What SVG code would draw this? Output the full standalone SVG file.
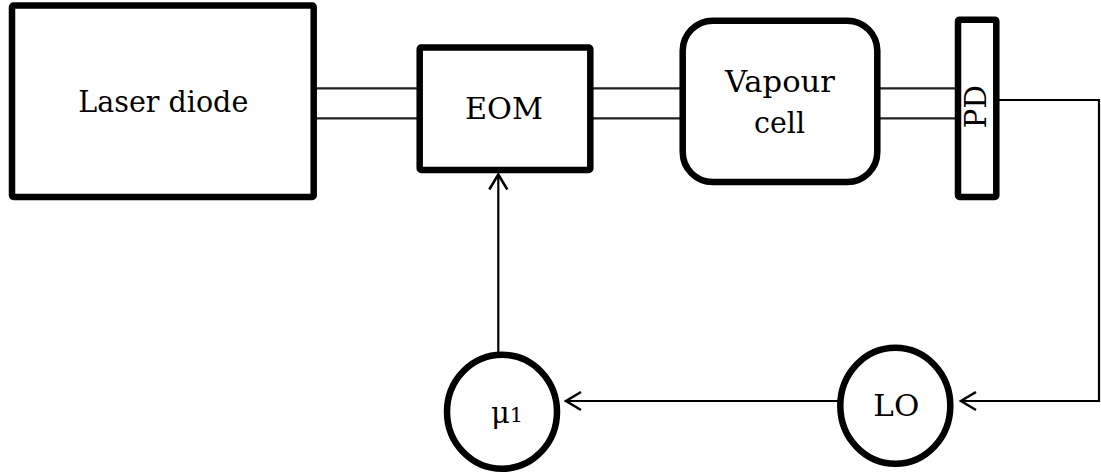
<svg xmlns="http://www.w3.org/2000/svg" width="1101" height="473" viewBox="0 0 1101 473">
<style>
.box{fill:#fff;stroke:#000;stroke-width:6.5;stroke-linejoin:round}
.beam{stroke:#222;stroke-width:2.2;fill:none}
.wire{stroke:#000;stroke-width:2.2;fill:none}
.lbl{font-family:"DejaVu Serif","Liberation Serif",serif;font-size:29px;fill:#000}
</style>
<defs>
<marker id="arr" markerUnits="userSpaceOnUse" markerWidth="24" markerHeight="24" viewBox="-20 -12 24 24" refX="0" refY="0" orient="auto">
<path d="M-15,-9 L0,0 L-15,9" fill="none" stroke="#000" stroke-width="2.5"/>
</marker>
</defs>
<rect width="1101" height="473" fill="#fff"/>
<g id="connectors">
<path class="beam" d="M313,88.3 H420 M313,118.3 H420"/>
<path class="beam" d="M590,88.3 H683 M590,118.3 H683"/>
<path class="beam" d="M877,88.3 H958 M877,118.3 H958"/>
<path class="wire" d="M996,100 H1099 V401 H961" marker-end="url(#arr)"/>
<path class="wire" d="M840,401 H566" marker-end="url(#arr)"/>
<path class="wire" d="M498.3,355 V174.5" marker-end="url(#arr)"/>
</g>
<g id="laser">
<rect class="box" x="12" y="5.5" width="301.7" height="191.5" rx="1.5"/>
<text class="lbl" x="78.3" y="111.7" textLength="170" lengthAdjust="spacingAndGlyphs">Laser diode</text>
</g>
<g id="eom">
<rect class="box" x="419.7" y="47.5" width="170.6" height="122.5" rx="1.5"/>
<text class="lbl" x="465" y="119" textLength="78" lengthAdjust="spacingAndGlyphs">EOM</text>
</g>
<g id="vapour">
<rect class="box" x="682.7" y="20.7" width="194.6" height="161.3" rx="30"/>
<text class="lbl" x="725" y="91.7" textLength="110" lengthAdjust="spacingAndGlyphs">Vapour</text>
<text class="lbl" x="754" y="133.3" textLength="51" lengthAdjust="spacingAndGlyphs">cell</text>
</g>
<g id="pd">
<rect class="box" x="958" y="19.7" width="38.3" height="177.3" rx="1.5"/>
<text class="lbl" transform="translate(985.7,106.7) rotate(-90)" text-anchor="middle" x="0" y="0" textLength="43" lengthAdjust="spacingAndGlyphs">PD</text>
</g>
<g id="mu">
<ellipse class="box" cx="502" cy="411.7" rx="55" ry="57"/>
<text class="lbl" x="491" y="423.3">μ<tspan font-size="21" dy="-1">1</tspan></text>
</g>
<g id="lo">
<ellipse class="box" cx="895.3" cy="405.8" rx="55" ry="58"/>
<text class="lbl" x="873.3" y="416" textLength="46" lengthAdjust="spacingAndGlyphs">LO</text>
</g>
</svg>
